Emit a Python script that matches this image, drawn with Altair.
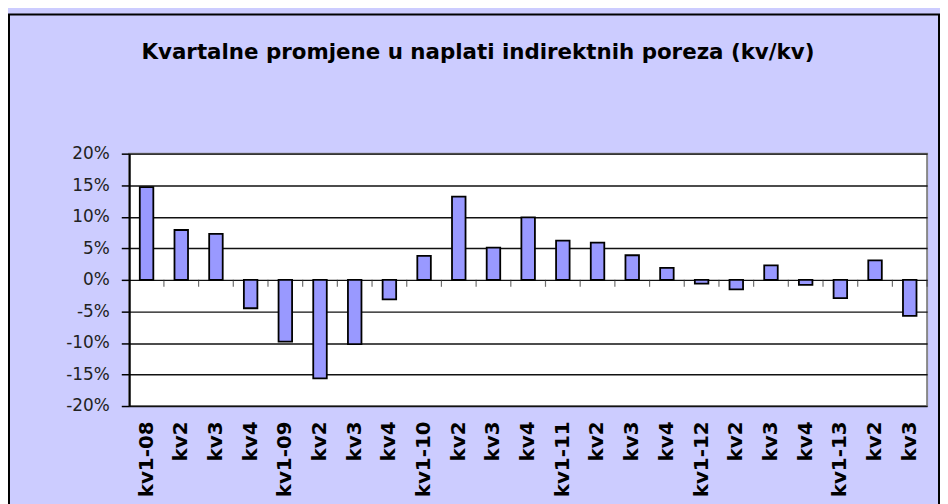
import altair as alt
import pandas as pd

title_text = "Kvartalne promjene u naplati indirektnih poreza (kv/kv)"
labels = ["kv1-08", "kv2", "kv3", "kv4", "kv1-09", "kv2", "kv3", "kv4",
          "kv1-10", "kv2", "kv3", "kv4", "kv1-11", "kv2", "kv3", "kv4",
          "kv1-12", "kv2", "kv3", "kv4", "kv1-13", "kv2", "kv3"]
values = [14.7, 7.9, 7.3, -4.5, -9.8, -15.6, -10.2, -3.1, 3.8, 13.2, 5.1, 9.9,
          6.2, 5.9, 3.9, 1.9, -0.6, -1.5, 2.3, -0.8, -2.9, 3.1, -5.7]
y_ticks = [-20, -15, -10, -5, 0, 5, 10, 15, 20]

df = pd.DataFrame({
    "key": [f"{i:02d}" for i in range(len(labels))],
    "label": labels,
    "val": values,
})

PLOT_W, PLOT_H = 803, 254
label_arr = "[" + ",".join(f"'{l}'" for l in labels) + "]"

x_enc = alt.X(
    "key:O",
    sort=None,
    scale=alt.Scale(paddingInner=0, paddingOuter=0),
    axis=alt.Axis(
        title=None, labelAngle=-90, labelExpr=f"{label_arr}[toNumber(datum.value)]",
        labelFont="DejaVu Sans", labelFontWeight="bold", labelFontSize=20,
        labelColor="#000000", labelPadding=15, ticks=False, domain=False,
        grid=False, labelOverlap=False,
    ),
)
y_scale = alt.Scale(domain=[-20, 20], nice=False, zero=True)
y_enc = alt.Y(
    "val:Q",
    scale=y_scale,
    axis=alt.Axis(
        title=None, values=y_ticks, tickCount=9, labelExpr="datum.value + '%'",
        labelFont="DejaVu Sans", labelFontSize=17, labelColor="#222222",
        labelPadding=12, tickSize=8, tickColor="#000000", tickWidth=1.5,
        domainColor="#000000", domainWidth=2, grid=True,
        gridColor="#111111", gridWidth=1.4, labelOverlap=False,
    ),
)

base = alt.Chart(df)

bars = base.mark_bar(
    width=alt.RelativeBandSize(0.39), color="#9999FF",
    stroke="#000000", strokeWidth=1.8,
).encode(x=x_enc, y=y_enc)

zero_ticks = base.mark_tick(
    orient="vertical", size=7, thickness=1.2, color="#333333", yOffset=3.5,
).encode(
    x=alt.X("key:O", sort=None, bandPosition=1),
    y=alt.datum(0, scale=y_scale),
)

frame = alt.Chart(alt.Data(values=[{"a": 1}])).mark_rect(
    fill="transparent", stroke="#000000", strokeWidth=2,
).encode(
    x=alt.value(-121), x2=alt.value(815),
    y=alt.value(-140), y2=alt.value(400),
)

title = alt.Chart(alt.Data(values=[{"t": title_text}])).mark_text(
    font="DejaVu Sans", fontWeight="bold", fontSize=21.5, color="#000000",
    align="center", baseline="alphabetic",
).encode(
    text="t:N", x=alt.value(351), y=alt.value(-95),
)

chart = alt.layer(frame, bars, zero_ticks, title).properties(
    width=PLOT_W, height=PLOT_H,
    autosize=alt.AutoSizeParams(type="none"),
    padding={"left": 122, "top": 145, "right": 13, "bottom": 97},
    background="#CCCCFF",
).configure_view(
    fill="#FFFFFF", stroke="#888888", strokeWidth=2,
)

chart.save("out.html", embed_options={"renderer": "svg", "actions": False})
